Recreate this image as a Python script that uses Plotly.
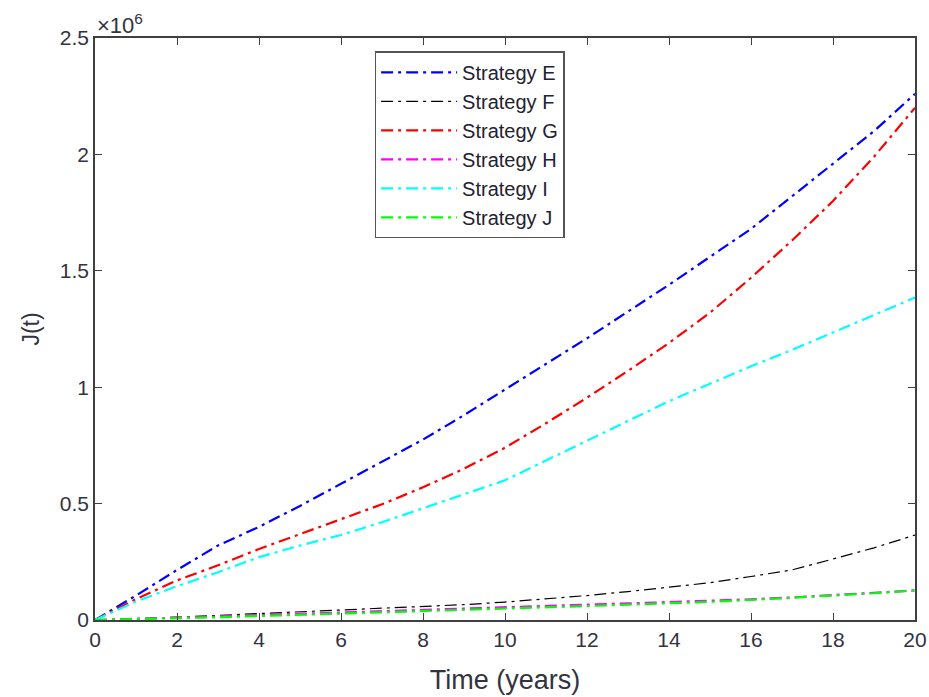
import plotly.graph_objects as go

years = list(range(0, 21))

# J(t) values, in units of 1e6
strategy_E = [0, 0.105, 0.215, 0.32, 0.40, 0.49, 0.585, 0.68, 0.775, 0.88, 0.99,
              1.10, 1.21, 1.325, 1.44, 1.56, 1.68, 1.82, 1.96, 2.10, 2.26]
strategy_F = [0, 0.005, 0.012, 0.02, 0.028, 0.035, 0.043, 0.05, 0.057, 0.066, 0.077,
              0.09, 0.105, 0.122, 0.14, 0.16, 0.187, 0.215, 0.262, 0.31, 0.365]
strategy_G = [0, 0.09, 0.17, 0.235, 0.305, 0.37, 0.435, 0.497, 0.57, 0.65, 0.74,
              0.845, 0.955, 1.07, 1.19, 1.32, 1.47, 1.63, 1.80, 1.99, 2.20]
strategy_H = [0, 0.004, 0.009, 0.015, 0.021, 0.027, 0.033, 0.039, 0.045, 0.05, 0.056,
              0.061, 0.066, 0.071, 0.076, 0.082, 0.089, 0.097, 0.106, 0.116, 0.127]
strategy_I = [0, 0.08, 0.145, 0.205, 0.27, 0.32, 0.365, 0.42, 0.48, 0.54, 0.60,
              0.685, 0.77, 0.855, 0.94, 1.015, 1.09, 1.16, 1.235, 1.31, 1.385]
strategy_J = [0, 0.003, 0.007, 0.012, 0.017, 0.022, 0.028, 0.033, 0.039, 0.044, 0.05,
              0.055, 0.06, 0.066, 0.071, 0.078, 0.086, 0.095, 0.104, 0.115, 0.127]

series = [
    ("Strategy E", strategy_E, "#0000FF", 2.2),
    ("Strategy F", strategy_F, "#000000", 1.2),
    ("Strategy G", strategy_G, "#FF0000", 2.2),
    ("Strategy H", strategy_H, "#FF00FF", 2.2),
    ("Strategy I", strategy_I, "#00FFFF", 2.2),
    ("Strategy J", strategy_J, "#00FF00", 2.2),
]

y_ticks = [0, 0.5, 1, 1.5, 2, 2.5]
y_tick_labels = ["0", "0.5", "1", "1.5", "2", "2.5"]
x_ticks = list(range(0, 21, 2))

FONT = "Arial, Liberation Sans"
TXT = "#333340"

fig = go.Figure()
for name, vals, color, w in series:
    fig.add_trace(go.Scatter(
        x=years, y=vals, mode="lines", name=name,
        line=dict(color=color, width=w, dash="12px,5px,3px,5px"),
    ))

axis_common = dict(
    showline=True, linecolor="#404040", linewidth=1.5, mirror="ticks",
    ticks="inside", ticklen=7, tickcolor="#404040", showgrid=False, zeroline=False,
    automargin=False,
    tickfont=dict(family=FONT, size=21, color=TXT),
)

fig.update_layout(
    width=929, height=697,
    margin=dict(l=95, r=14, t=38, b=77),
    paper_bgcolor="white", plot_bgcolor="white",
    font=dict(family=FONT, color=TXT),
    showlegend=True,
    legend=dict(
        x=0.341, y=0.977, xanchor="left", yanchor="top",
        bgcolor="white", bordercolor="#555555", borderwidth=1.5,
        font=dict(family=FONT, size=20, color="#222230"),
        tracegroupgap=0, itemwidth=76,
    ),
    xaxis=dict(range=[0, 20], tickvals=x_ticks,
               title=dict(text="Time (years)", font=dict(size=27, color=TXT), standoff=20),
               **axis_common),
    yaxis=dict(range=[0, 2.5], tickvals=y_ticks, ticktext=y_tick_labels,
               title=dict(text="J(t)", font=dict(size=23, color=TXT), standoff=14),
               **axis_common),
)

fig.add_annotation(
    xref="paper", yref="paper", x=0.0, y=1.0, xanchor="left", yanchor="bottom",
    text="×10<sup>6</sup>", showarrow=False, yshift=-2,
    font=dict(family=FONT, size=22, color=TXT),
)

fig.write_html("out.html")
